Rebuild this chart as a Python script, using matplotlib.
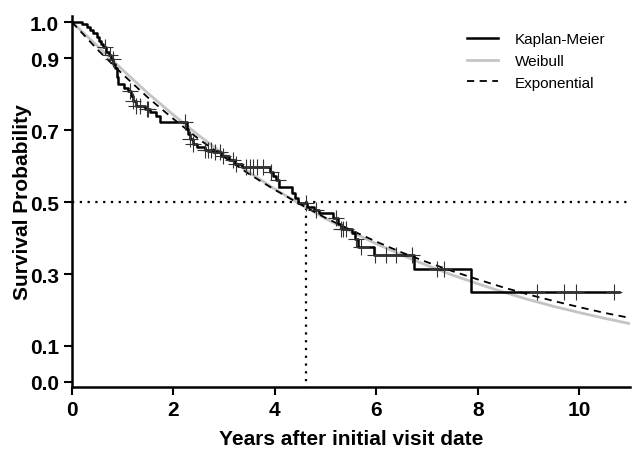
import numpy as np
import matplotlib
matplotlib.use("Agg")
from matplotlib import pyplot as plt

plt.rcParams['font.family'] = ['Liberation Sans', 'DejaVu Sans']

# Kaplan-Meier: event times and survival just after each event
km_times = [0.0, 0.19, 0.29, 0.35, 0.41, 0.49, 0.53, 0.58, 0.62, 0.68, 0.72, 0.76,
            0.81, 0.85, 0.88, 0.91, 1.02, 1.10, 1.17, 1.20, 1.27, 1.44, 1.53, 1.65,
            1.73, 2.26, 2.28, 2.32, 2.38, 2.46, 2.62, 2.78, 2.93, 3.10, 3.22, 3.35,
            3.90, 3.97, 4.02, 4.08, 4.33, 4.40, 4.46, 4.63, 4.78, 4.86, 5.15, 5.24,
            5.30, 5.52, 5.57, 5.63, 5.95, 6.75, 7.87, 10.78]
km_surv = [1.0, 0.994, 0.986, 0.978, 0.970, 0.958, 0.948, 0.940, 0.930, 0.918, 0.908, 0.897,
           0.883, 0.872, 0.848, 0.828, 0.818, 0.808, 0.796, 0.781, 0.768, 0.758, 0.750, 0.738,
           0.722, 0.703, 0.689, 0.675, 0.662, 0.653, 0.645, 0.638, 0.627, 0.616, 0.607, 0.597,
           0.584, 0.573, 0.560, 0.543, 0.524, 0.510, 0.497, 0.487, 0.479, 0.470, 0.455, 0.440,
           0.426, 0.415, 0.397, 0.376, 0.352, 0.314, 0.250, 0.250]

# censored observations
censor_times = [0.66, 0.75, 0.80, 1.14, 1.20, 1.27, 1.34, 1.47, 1.50, 2.22, 2.32, 2.38,
                2.62, 2.68, 2.75, 2.81, 2.91, 2.97, 3.17, 3.24, 3.44, 3.50, 3.57, 3.64,
                3.76, 3.93, 4.06, 4.62, 4.82, 5.21, 5.31, 5.34, 5.41, 5.60, 5.70, 5.98,
                6.19, 6.39, 6.71, 7.20, 7.34, 9.17, 9.70, 9.93, 10.69]

# fitted curves
fit_t = [0.0, 0.5, 1.0, 1.5, 2.0, 2.5, 3.0, 3.5, 4.0, 4.5, 5.0, 5.5,
         6.0, 6.5, 7.0, 7.5, 8.0, 8.5, 9.0, 9.5, 10.0, 10.5, 11.0]
weibull = [1.000, 0.934, 0.867, 0.802, 0.742, 0.685, 0.632, 0.582, 0.536, 0.494, 0.454, 0.418,
           0.384, 0.353, 0.324, 0.297, 0.273, 0.250, 0.229, 0.210, 0.193, 0.177, 0.162]
exponential = [1.000, 0.924, 0.855, 0.790, 0.731, 0.675, 0.625, 0.577, 0.534, 0.494, 0.456, 0.422,
               0.390, 0.360, 0.333, 0.308, 0.285, 0.263, 0.243, 0.225, 0.208, 0.192, 0.178]

median_t = 4.62
y_ticks = [0.0, 0.1, 0.3, 0.5, 0.7, 0.9, 1.0]
x_ticks = [0, 2, 4, 6, 8, 10]

fig = plt.figure(figsize=(6.35, 4.6), dpi=100)
ax = fig.add_axes([0.1134, 0.1565, 0.8786, 0.8065])

ax.plot(fit_t, weibull, color='#c4c4c4', lw=2.0, label='Weibull', zorder=2)
ax.plot(fit_t, exponential, color='black', lw=1.3, ls=(0, (4, 3)), label='Exponential', zorder=3)
ax.step(km_times, km_surv, where='post', color='black', lw=1.8, label='Kaplan-Meier', zorder=4)

# censor marks
km_t = np.array(km_times)
km_s = np.array(km_surv)
idx = np.searchsorted(km_t, censor_times, side='right') - 1
ax.plot(censor_times, km_s[idx], ls='none', marker='+', ms=11, mew=0.8, color='#333333', zorder=5)

# median lines
ax.axhline(0.5, color='black', lw=1.6, ls=(0, (1, 2.5)), zorder=1)
ax.plot([median_t, median_t], [-0.02, 0.5], color='black', lw=1.6, ls=(0, (1, 2.5)), zorder=1)

ax.set_xlim(0, 11)
ax.set_ylim(-0.014, 1.017)
ax.set_xticks(x_ticks)
ax.set_yticks(y_ticks)
ax.set_yticklabels([f"{v:.1f}" for v in y_ticks])
for s in ['top', 'right']:
    ax.spines[s].set_visible(False)
for s in ['left', 'bottom']:
    ax.spines[s].set_linewidth(1.8)
ax.tick_params(direction='out', length=6, width=1.5, labelsize=15)
for lab in ax.get_xticklabels() + ax.get_yticklabels():
    lab.set_fontweight('bold')

ax.set_xlabel("Years after initial visit date", fontsize=15, fontweight='bold', labelpad=7)
ax.set_ylabel("Survival Probability", fontsize=15, fontweight='bold', labelpad=-2)

handles, labels = ax.get_legend_handles_labels()
order = [2, 0, 1]
ax.legend([handles[i] for i in order], [labels[i] for i in order], loc='upper right',
          frameon=False, fontsize=11, handlelength=2.0, handletextpad=1.1,
          borderaxespad=0.3, bbox_to_anchor=(0.975, 0.985), labelspacing=0.5)

fig.savefig("out.png", dpi=100)
